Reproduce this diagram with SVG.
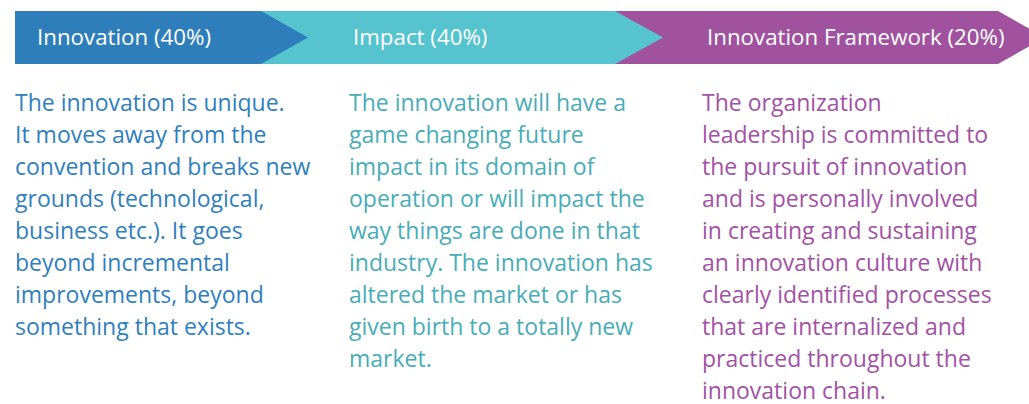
<svg xmlns="http://www.w3.org/2000/svg" width="1029" height="404" viewBox="0 0 1029 404">
<style>
.hdr{font-family:"Open Sans",Lato,sans-serif;font-size:22.3px;fill:#ffffff}
.body{font-family:"Open Sans",Lato,sans-serif;font-size:23px}
.c1{fill:#2F7FBE}.c2{fill:#48ADB6}.c3{fill:#A252A4}
</style>
<rect width="1029" height="404" fill="#ffffff"/>
<g id="node-framework">
<polygon points="615,11 998,11 1045,37.5 998,64 615,64" fill="#A0529F"/>
<text class="hdr" x="707" y="45">Innovation Framework (20%)</text>
</g>
<g id="node-impact">
<polygon points="261,11 615,11 663,37.5 615,64 261,64" fill="#56C4CF"/>
<text class="hdr" x="353" y="45">Impact (40%)</text>
</g>
<g id="node-innovation">
<polygon points="15,11 261,11 308,37.5 261,64 15,64" fill="#2E7EBB"/>
<text class="hdr" x="37" y="45">Innovation (40%)</text>
</g>
<g id="connectors"></g>
<g id="text-innovation">
<text class="body c1">
<tspan x="15" y="111">The innovation is unique.</tspan>
<tspan x="15" y="143">It moves away from the</tspan>
<tspan x="15" y="175">convention and breaks new</tspan>
<tspan x="15" y="207">grounds (technological,</tspan>
<tspan x="15" y="239">business etc.). It goes</tspan>
<tspan x="15" y="271">beyond incremental</tspan>
<tspan x="15" y="303">improvements, beyond</tspan>
<tspan x="15" y="335">something that exists.</tspan>
</text>
</g>
<g id="text-impact">
<text class="body c2">
<tspan x="349" y="111">The innovation will have a</tspan>
<tspan x="349" y="143">game changing future</tspan>
<tspan x="349" y="175">impact in its domain of</tspan>
<tspan x="349" y="207">operation or will impact the</tspan>
<tspan x="349" y="239">way things are done in that</tspan>
<tspan x="349" y="271">industry. The innovation has</tspan>
<tspan x="349" y="303">altered the market or has</tspan>
<tspan x="349" y="335">given birth to a totally new</tspan>
<tspan x="349" y="367">market.</tspan>
</text>
</g>
<g id="text-framework">
<text class="body c3">
<tspan x="702" y="111">The organization</tspan>
<tspan x="702" y="143">leadership is committed to</tspan>
<tspan x="702" y="175">the pursuit of innovation</tspan>
<tspan x="702" y="207">and is personally involved</tspan>
<tspan x="702" y="239">in creating and sustaining</tspan>
<tspan x="702" y="271">an innovation culture with</tspan>
<tspan x="702" y="303">clearly identified processes</tspan>
<tspan x="702" y="335">that are internalized and</tspan>
<tspan x="702" y="367">practiced throughout the</tspan>
<tspan x="702" y="399">innovation chain.</tspan>
</text>
</g>
</svg>
